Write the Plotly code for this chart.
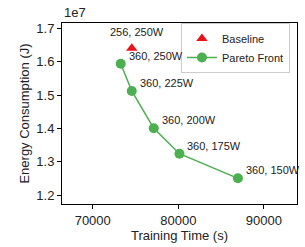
import plotly.graph_objects as go

baseline_time = [74560]
baseline_energy = [1.640e7]
baseline_labels = ["256, 250W"]

pareto_time = [73270, 74560, 77130, 80130, 86960]
pareto_energy = [1.594e7, 1.512e7, 1.400e7, 1.324e7, 1.250e7]
pareto_labels = ["360, 250W", "360, 225W", "360, 200W", "360, 175W", "360, 150W"]

x_ticks = [70000, 80000, 90000]
y_ticks = [1.2e7, 1.3e7, 1.4e7, 1.5e7, 1.6e7, 1.7e7]
y_tick_text = ["1.2", "1.3", "1.4", "1.5", "1.6", "1.7"]

FONT = "Liberation Sans, Arial, sans-serif"
RED = "#e8141c"
GREEN = "#4caf50"

fig = go.Figure()
fig.add_trace(go.Scatter(
    x=baseline_time, y=baseline_energy, mode="markers", name="Baseline",
    marker=dict(symbol="triangle-up", size=10, color=RED),
))
fig.add_trace(go.Scatter(
    x=pareto_time, y=pareto_energy, mode="lines+markers", name="Pareto Front",
    line=dict(color=GREEN, width=1.5),
    marker=dict(symbol="circle", size=10, color=GREEN),
))

for x, y, t in zip(baseline_time, baseline_energy, baseline_labels):
    fig.add_annotation(x=x, y=y, text=t, showarrow=False, xanchor="center",
                       yanchor="middle", xshift=5, yshift=16,
                       font=dict(size=11, color="#222", family=FONT))
for x, y, t in zip(pareto_time, pareto_energy, pareto_labels):
    fig.add_annotation(x=x, y=y, text=t, showarrow=False, xanchor="left",
                       yanchor="middle", xshift=6, yshift=8,
                       font=dict(size=11, color="#222", family=FONT))

fig.add_annotation(xref="paper", yref="paper", x=0, y=1, text="1e7",
                   showarrow=False, xanchor="left", yanchor="bottom", yshift=1,
                   font=dict(size=13, color="#222", family=FONT))

axis_common = dict(showgrid=False, zeroline=False, showline=True, mirror=True,
                   linecolor="black", linewidth=1, ticks="outside", ticklen=4,
                   tickcolor="black", tickwidth=1, automargin=False,
                   tickfont=dict(size=13, color="#222", family=FONT))

fig.update_xaxes(range=[66410, 93860], tickvals=x_ticks,
                 ticktext=[str(v) for v in x_ticks],
                 title=dict(text="Training Time (s)", standoff=4,
                            font=dict(size=13, color="#222", family=FONT)),
                 **axis_common)
fig.update_yaxes(range=[1.173e7, 1.716e7], tickvals=y_ticks, ticktext=y_tick_text,
                 title=dict(text="Energy Consumption (J)", standoff=3,
                            font=dict(size=13, color="#222", family=FONT)),
                 **axis_common)

fig.update_layout(
    width=305, height=247,
    margin=dict(l=62, r=8, t=23, b=43, autoexpand=False),
    paper_bgcolor="white", plot_bgcolor="white",
    font=dict(family=FONT, color="#222"),
    legend=dict(x=0.97, y=1.0, xanchor="right", yanchor="top",
                bgcolor="white", bordercolor="#cccccc", borderwidth=1,
                font=dict(size=11, family=FONT, color="#222"),
                tracegroupgap=0, itemwidth=30),
    showlegend=True,
)

fig.write_html(
    "out.html",
    config={"displayModeBar": False},
    post_script="document.body.style.margin='0';document.body.style.padding='0';",
)
